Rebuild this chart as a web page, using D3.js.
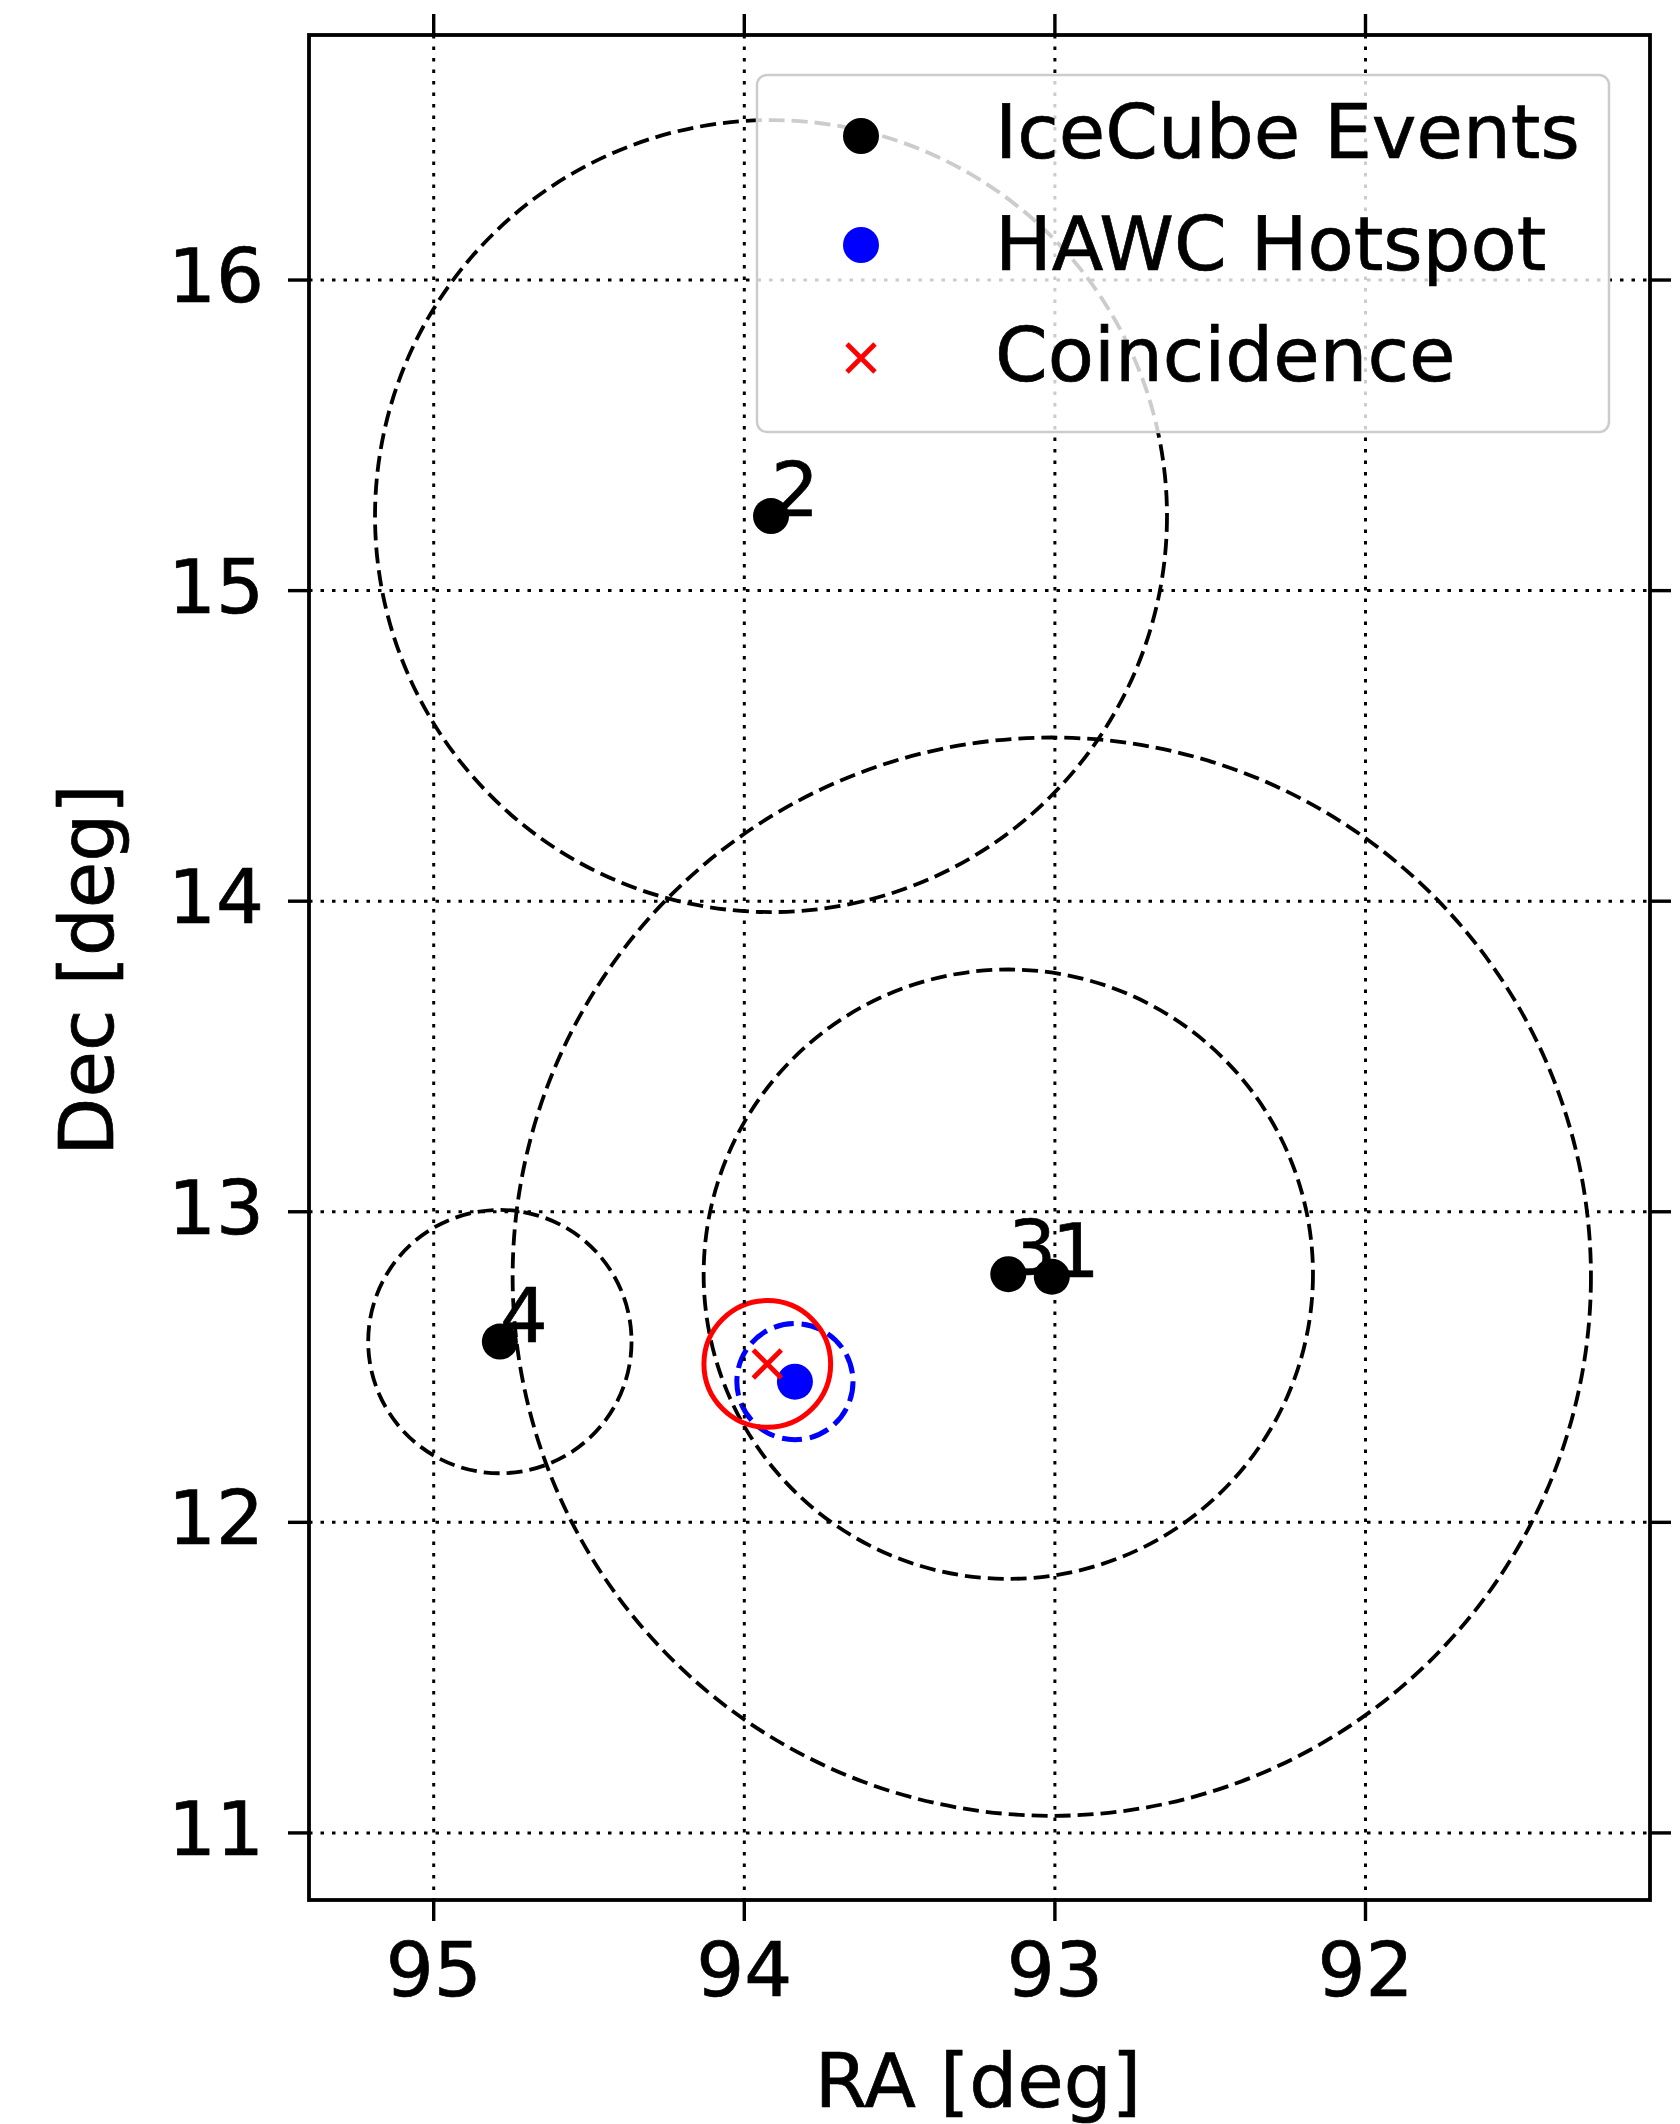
<!DOCTYPE html>
<html>
<head>
<meta charset="utf-8">
<script src="https://cdn.jsdelivr.net/npm/d3@7"></script>
<style>
  html, body { margin: 0; padding: 0; background: #ffffff; }
  svg { display: block; }
  text { font-family: "DejaVu Sans", sans-serif; fill: #000; stroke: #000; stroke-width: 0.7px; }
</style>
</head>
<body>
<svg id="chart" width="1680" height="2124"></svg>
<script>
// ---- Data ----
const eventIds   = ["1", "2", "3", "4"];
const eventRA    = [93.010, 93.914, 93.150, 94.787];
const eventDec   = [12.791, 15.240, 12.799, 12.582];
const eventErr   = [1.736, 1.275, 0.981, 0.424];

const hawcRA  = [93.837];
const hawcDec = [12.453];
const hawcErr = [0.187];

const coinRA  = [93.926];
const coinDec = [12.510];
const coinErr = [0.204];

const xTicks = [95, 94, 93, 92];
const yTicks = [11, 12, 13, 14, 15, 16];
const legendLabels = ["IceCube Events", "HAWC Hotspot", "Coincidence"];
const xDomain = [95.4015, 91.084];
const yDomain = [10.784, 16.789];

// ---- Layout ----
const L = 309, R = 1650, T = 35, B = 1900;
const FS = 75.5;

const svg = d3.select("#chart");
const x = d3.scaleLinear().domain(xDomain).range([L, R]);
const y = d3.scaleLinear().domain(yDomain).range([B, T]);
const rPix = d => Math.abs(y(d) - y(0));

const clipId = "plotclip";
svg.append("clipPath").attr("id", clipId)
  .append("rect").attr("x", L).attr("y", T).attr("width", R - L).attr("height", B - T);

const plot = svg.append("g").attr("clip-path", `url(#${clipId})`);

// circles (patches, beneath grid)
const events = eventIds.map((id, i) => ({id, ra: eventRA[i], dec: eventDec[i], err: eventErr[i]}));
plot.selectAll("circle.err").data(events).enter().append("circle")
  .attr("class", "err")
  .attr("cx", d => x(d.ra)).attr("cy", d => y(d.dec)).attr("r", d => rPix(d.err))
  .attr("fill", "none").attr("stroke", "#000").attr("stroke-width", 3.8)
  .attr("stroke-dasharray", "16,7");

plot.selectAll("circle.herr").data(hawcRA.map((v, i) => ({ra: v, dec: hawcDec[i], err: hawcErr[i]})))
  .enter().append("circle")
  .attr("cx", d => x(d.ra)).attr("cy", d => y(d.dec)).attr("r", d => rPix(d.err))
  .attr("fill", "none").attr("stroke", "#0000ff").attr("stroke-width", 5)
  .attr("stroke-dasharray", "20,8");

plot.selectAll("circle.cerr").data(coinRA.map((v, i) => ({ra: v, dec: coinDec[i], err: coinErr[i]})))
  .enter().append("circle")
  .attr("cx", d => x(d.ra)).attr("cy", d => y(d.dec)).attr("r", d => rPix(d.err))
  .attr("fill", "none").attr("stroke", "#ff0000").attr("stroke-width", 5);

// grid
const grid = plot.append("g");
grid.selectAll("line.vx").data(xTicks).enter().append("line")
  .attr("x1", d => x(d)).attr("x2", d => x(d)).attr("y1", T).attr("y2", B)
  .attr("stroke", "#000").attr("stroke-width", 3).attr("stroke-dasharray", "3.5,8");
grid.selectAll("line.hy").data(yTicks).enter().append("line")
  .attr("y1", d => y(d)).attr("y2", d => y(d)).attr("x1", L).attr("x2", R)
  .attr("stroke", "#000").attr("stroke-width", 3).attr("stroke-dasharray", "3.5,8");

// markers
const MR = 18;
plot.selectAll("circle.ev").data(events).enter().append("circle")
  .attr("cx", d => x(d.ra)).attr("cy", d => y(d.dec)).attr("r", MR).attr("fill", "#000");
plot.selectAll("circle.hw").data(hawcRA.map((v, i) => ({ra: v, dec: hawcDec[i]}))).enter().append("circle")
  .attr("cx", d => x(d.ra)).attr("cy", d => y(d.dec)).attr("r", MR).attr("fill", "#0000ff");

function xMarker(g, cx, cy, h, color, w) {
  g.append("path")
    .attr("d", `M${cx - h},${cy - h}L${cx + h},${cy + h}M${cx - h},${cy + h}L${cx + h},${cy - h}`)
    .attr("stroke", color).attr("stroke-width", w).attr("fill", "none");
}
coinRA.forEach((v, i) => xMarker(plot, x(v), y(coinDec[i]), 14, "#ff0000", 4.8));

// event labels
plot.selectAll("text.lbl").data(events).enter().append("text")
  .attr("x", d => x(d.ra)).attr("y", d => y(d.dec))
  .attr("font-size", FS).text(d => d.id);

// spines
svg.append("rect").attr("x", L).attr("y", T).attr("width", R - L).attr("height", B - T)
  .attr("fill", "none").attr("stroke", "#000").attr("stroke-width", 3.8);

// ticks (all four sides, outward)
const TL = 21;
const tk = svg.append("g").attr("stroke", "#000").attr("stroke-width", 3.4);
xTicks.forEach(v => {
  tk.append("line").attr("x1", x(v)).attr("x2", x(v)).attr("y1", B).attr("y2", B + TL);
  tk.append("line").attr("x1", x(v)).attr("x2", x(v)).attr("y1", T).attr("y2", T - TL);
});
yTicks.forEach(v => {
  tk.append("line").attr("y1", y(v)).attr("y2", y(v)).attr("x1", L).attr("x2", L - TL);
  tk.append("line").attr("y1", y(v)).attr("y2", y(v)).attr("x1", R).attr("x2", R + TL);
});

// tick labels
svg.selectAll("text.xt").data(xTicks).enter().append("text")
  .attr("x", d => x(d)).attr("y", 1996).attr("text-anchor", "middle")
  .attr("font-size", FS).text(d => d);
svg.selectAll("text.yt").data(yTicks).enter().append("text")
  .attr("x", 264).attr("y", d => y(d) + 22).attr("text-anchor", "end")
  .attr("font-size", FS).text(d => d);

// axis labels
svg.append("text").attr("x", 978).attr("y", 2107).attr("text-anchor", "middle")
  .attr("font-size", FS).text("RA [deg]");
svg.append("text").attr("transform", "translate(113,970) rotate(-90)")
  .attr("text-anchor", "middle").attr("font-size", FS).text("Dec [deg]");

// legend
const lg = svg.append("g");
lg.append("rect").attr("x", 757).attr("y", 75).attr("width", 852).attr("height", 357)
  .attr("rx", 10).attr("ry", 10)
  .attr("fill", "#ffffff").attr("fill-opacity", 0.8)
  .attr("stroke", "#cccccc").attr("stroke-width", 2.5);
const rowsY = [158, 270, 381];
const mkY = [136, 245, 358];
lg.append("circle").attr("cx", 861).attr("cy", mkY[0]).attr("r", MR).attr("fill", "#000");
lg.append("circle").attr("cx", 861).attr("cy", mkY[1]).attr("r", MR).attr("fill", "#0000ff");
xMarker(lg, 861, mkY[2], 14, "#ff0000", 4.8);
lg.selectAll("text").data(legendLabels).enter().append("text")
  .attr("x", 995).attr("y", (d, i) => rowsY[i]).attr("font-size", FS).text(d => d);
</script>
</body>
</html>
